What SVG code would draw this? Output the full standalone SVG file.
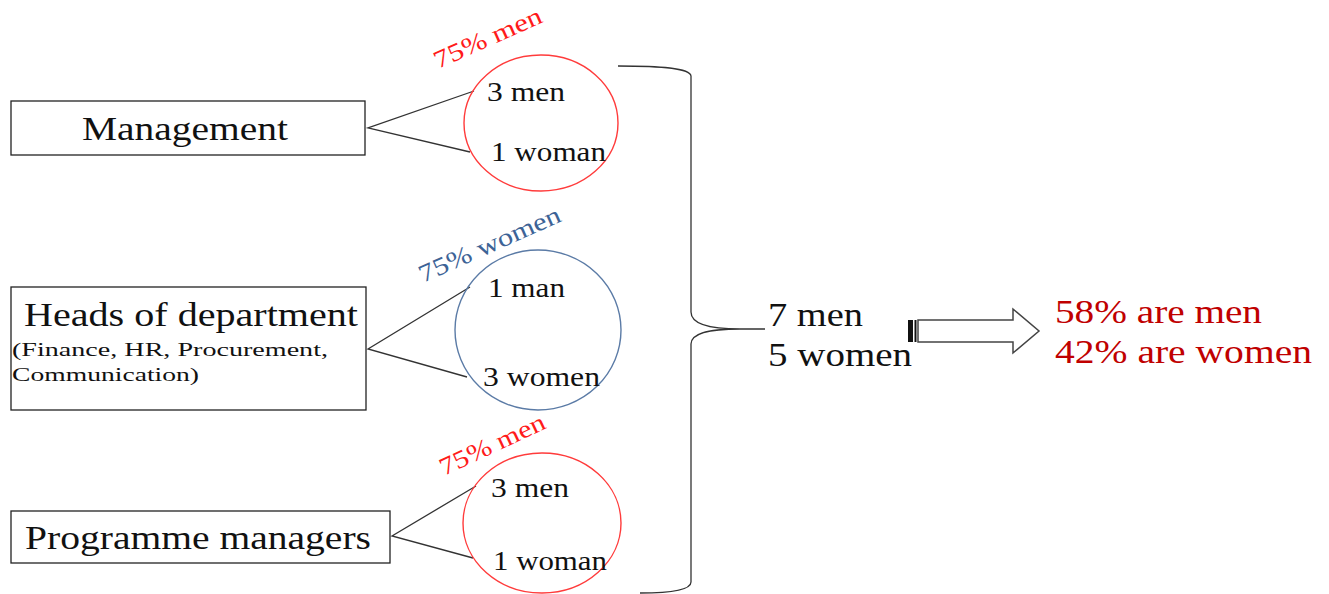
<svg xmlns="http://www.w3.org/2000/svg" width="1329" height="594" viewBox="0 0 1329 594">
<style>
.box{fill:#fff;stroke:#222;stroke-width:1.3}
.t{font-family:"Liberation Serif","Times New Roman",serif;fill:#111}
.big{font-size:34px}
.mid{font-size:28px}
.sm{font-size:19px}
.rot{font-size:25px}
.red{fill:#ff1a1a}
.blue{fill:#3d6396}
.res{fill:#c00000}
.ln{stroke:#333;stroke-width:1.3;fill:none}
</style>
<rect width="1329" height="594" fill="#fff"/>
<g id="connectors">
<polyline class="ln" points="474,91 368,128 470,152"/>
<polyline class="ln" points="470,287 368,349 467,377"/>
<polyline class="ln" points="476,486 392,536 473,558"/>
<path class="ln" stroke-width="1.8" d="M618,66 C660,66 690,68 691,76 L691,312 C691,322 705,329 740,329 L765,329 M740,329 C705,329 691,334 691,344 L691,582 C691,590 670,593 640,593"/>
</g>
<g id="management">
<rect class="box" x="11" y="101" width="354" height="54"/>
<text class="t big" x="82" y="140" textLength="206" lengthAdjust="spacingAndGlyphs">Management</text>
</g>
<g id="heads">
<rect class="box" x="11" y="287" width="355" height="123"/>
<text class="t big" x="24" y="326" textLength="334" lengthAdjust="spacingAndGlyphs">Heads of department</text>
<text class="t sm" x="12" y="356" textLength="316" lengthAdjust="spacingAndGlyphs">(Finance, HR, Procurement,</text>
<text class="t sm" x="12" y="381" textLength="187" lengthAdjust="spacingAndGlyphs">Communication)</text>
</g>
<g id="programme">
<rect class="box" x="11" y="511" width="379" height="52"/>
<text class="t big" x="25" y="549" textLength="346" lengthAdjust="spacingAndGlyphs">Programme managers</text>
</g>
<g id="circle1">
<ellipse cx="541" cy="123" rx="77" ry="68" fill="none" stroke="#ff3b3b" stroke-width="1.4"/>
<text class="t mid" x="487" y="101" textLength="78" lengthAdjust="spacingAndGlyphs">3 men</text>
<text class="t mid" x="491" y="161" textLength="115" lengthAdjust="spacingAndGlyphs">1 woman</text>
<text class="t rot red" transform="translate(438,69) rotate(-24)" textLength="116" lengthAdjust="spacingAndGlyphs">75% men</text>
</g>
<g id="circle2">
<ellipse cx="538" cy="330" rx="83" ry="80" fill="none" stroke="#5b7ba6" stroke-width="1.4"/>
<text class="t mid" x="488" y="297" textLength="77" lengthAdjust="spacingAndGlyphs">1 man</text>
<text class="t mid" x="483" y="386" textLength="117" lengthAdjust="spacingAndGlyphs">3 women</text>
<text class="t rot blue" transform="translate(423,283) rotate(-24)" textLength="153" lengthAdjust="spacingAndGlyphs">75% women</text>
</g>
<g id="circle3">
<ellipse cx="542" cy="523" rx="79" ry="70" fill="none" stroke="#ff3b3b" stroke-width="1.4"/>
<text class="t mid" x="491" y="497" textLength="78" lengthAdjust="spacingAndGlyphs">3 men</text>
<text class="t mid" x="493" y="570" textLength="114" lengthAdjust="spacingAndGlyphs">1 woman</text>
<text class="t rot red" transform="translate(444,476) rotate(-25)" textLength="114" lengthAdjust="spacingAndGlyphs">75% men</text>
</g>
<g id="total">
<text class="t big" x="768" y="326" textLength="95" lengthAdjust="spacingAndGlyphs">7 men</text>
<text class="t big" x="768" y="366" textLength="144" lengthAdjust="spacingAndGlyphs">5 women</text>
</g>
<g id="arrow">
<rect x="908" y="320" width="5" height="22" fill="#111"/>
<rect x="914.5" y="320" width="2" height="22" fill="#111"/>
<path d="M918,320 L1013,320 L1013,309 L1039,331 L1013,353 L1013,342 L918,342 Z" fill="#fff" stroke="#444" stroke-width="1.5"/>
</g>
<g id="result">
<text class="t big res" x="1055" y="323" textLength="207" lengthAdjust="spacingAndGlyphs">58% are men</text>
<text class="t big res" x="1055" y="363" textLength="257" lengthAdjust="spacingAndGlyphs">42% are women</text>
</g>
</svg>
